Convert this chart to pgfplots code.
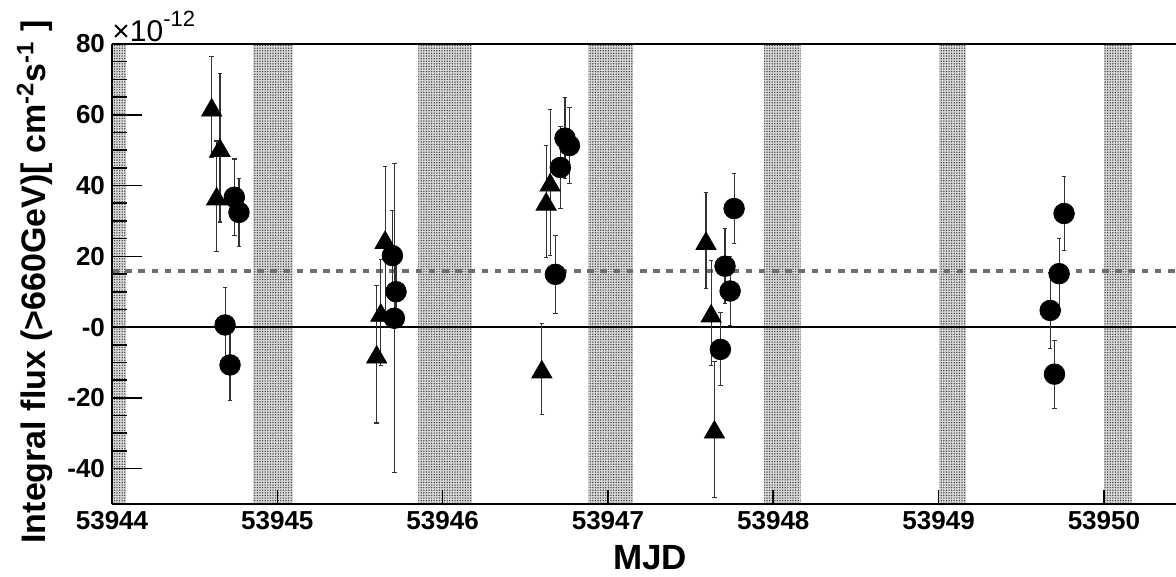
\documentclass[border=0pt]{standalone}
\usepackage{fontspec}
\setmainfont{Liberation Sans}
\usepackage{pgfplots}
\pgfplotsset{compat=1.18}
\usetikzlibrary{patterns.meta}

% x values are MJD - 53944
\pgfplotsset{
  band/.style={draw=none, forget plot, fill=gray!30,
    postaction={pattern={Dots[distance=1.3pt, radius=0.38pt]}, pattern color=black!75}},
  pts/.style={only marks, black,
    error bars/y dir=both, error bars/y explicit,
    error bars/error bar style={line width=0.55pt, black!80},
    error bars/error mark options={rotate=90, line width=0.55pt, mark size=1.1pt, black!80}},
}

\begin{document}
\begin{tikzpicture}
\begin{axis}[
  name=ax,
  scale only axis,
  width=532pt, height=230pt,
  xmin=0, xmax=6.436,
  ymin=-50, ymax=80,
  axis x line*=box, axis y line*=left,
  axis line style={line width=0.8pt, -},
  axis on top,
  tick pos=left, tick align=inside,
  xtick={0,1,2,3,4,5,6},
  xticklabels={53944,53945,53946,53947,53948,53949,53950},
  ytick={-40,-20,0,20,40,60,80},
  yticklabels={-40,-20,-0,20,40,60,80},
  minor y tick num=3,
  major tick length=15pt, minor tick length=7.5pt,
  xtick style={/pgfplots/major tick length=7pt},
  tick style={line width=0.8pt, black},
  ticklabel style={font=\fontsize{13}{15}\selectfont\bfseries},
  xlabel={MJD},
  xlabel style={at={(axis description cs:0.5056,0)}, anchor=north, yshift=-20.5pt,
    inner sep=0pt, font=\fontsize{17.5}{19}\selectfont\bfseries},
  ylabel={Integral flux (>660GeV)[ cm\textsuperscript{-2}s\textsuperscript{-1} ]},
  ylabel style={at={(axis description cs:-0.0724,0.483)}, anchor=center,
    inner sep=0pt, font=\fontsize{17}{19}\selectfont\bfseries},
]
% shaded bands
\addplot[band] coordinates {(-0.2,-60) (-0.2,90) (0.085,90) (0.085,-60)} -- cycle;
\addplot[band] coordinates {(0.853,-60) (0.853,90) (1.095,90) (1.095,-60)} -- cycle;
\addplot[band] coordinates {(1.853,-60) (1.853,90) (2.176,90) (2.176,-60)} -- cycle;
\addplot[band] coordinates {(2.880,-60) (2.880,90) (3.153,90) (3.153,-60)} -- cycle;
\addplot[band] coordinates {(3.944,-60) (3.944,90) (4.166,90) (4.166,-60)} -- cycle;
\addplot[band] coordinates {(5.003,-60) (5.003,90) (5.164,90) (5.164,-60)} -- cycle;
\addplot[band] coordinates {(6.000,-60) (6.000,90) (6.168,90) (6.168,-60)} -- cycle;

% zero line and mean flux
\addplot[black, line width=0.6pt, forget plot] coordinates {(0,0) (6.436,0)};
\addplot[black!57, line width=2.3pt, dash pattern=on 3.3pt off 3.3pt, forget plot]
  coordinates {(0,15.8) (6.436,15.8)};

% triangles
\addplot[pts, mark=triangle*, mark size=5.8pt, mark options={yshift=-1.45pt}] coordinates {
  (0.603,62.1) +- (0,14.3)
  (0.653,50.7) +- (0,21.0)
  (0.633,37.0) +- (0,15.6)
  (1.601,-7.7) +- (0,19.4)
  (1.626,4.1) +- (0,15.0)
  (1.652,24.7) +- (0,20.7)
  (2.600,-11.9) +- (0,12.8)
  (2.626,35.5) +- (0,15.8)
  (2.650,40.9) +- (0,20.7)
  (3.593,24.4) +- (0,13.6)
  (3.624,3.9) +- (0,14.8)
  (3.644,-28.9) +- (0,19.2)
};

% circles
\addplot[pts, mark=*, mark size=5.15pt] coordinates {
  (0.684,0.6) +- (0,10.5)
  (0.714,-10.7) +- (0,10.0)
  (0.740,36.7) +- (0,10.8)
  (0.768,32.4) +- (0,9.6)
  (1.696,20.2) +- (0,12.7)
  (1.708,2.5) +- (0,43.7)
  (1.718,10.0) +- (0,9.0)
  (2.682,14.9) +- (0,11.0)
  (2.712,45.1) +- (0,11.7)
  (2.740,53.4) +- (0,11.5)
  (2.767,51.3) +- (0,10.7)
  (3.680,-6.3) +- (0,10.3)
  (3.708,17.2) +- (0,10.6)
  (3.739,10.2) +- (0,9.8)
  (3.763,33.5) +- (0,9.9)
  (5.675,4.7) +- (0,10.7)
  (5.701,-13.3) +- (0,9.6)
  (5.729,15.1) +- (0,10.0)
  (5.759,32.1) +- (0,10.5)
};
\end{axis}
\node[anchor=south west, inner sep=0pt, font=\fontsize{15}{17}\selectfont]
  at ([yshift=1pt]ax.north west) {×10\raisebox{0.5em}{\fontsize{11}{11}\selectfont -12}};
\pgfresetboundingbox
\useasboundingbox ([xshift=-56pt,yshift=-36pt]ax.south west) rectangle ([yshift=22pt]ax.north east);
\end{tikzpicture}
\end{document}
